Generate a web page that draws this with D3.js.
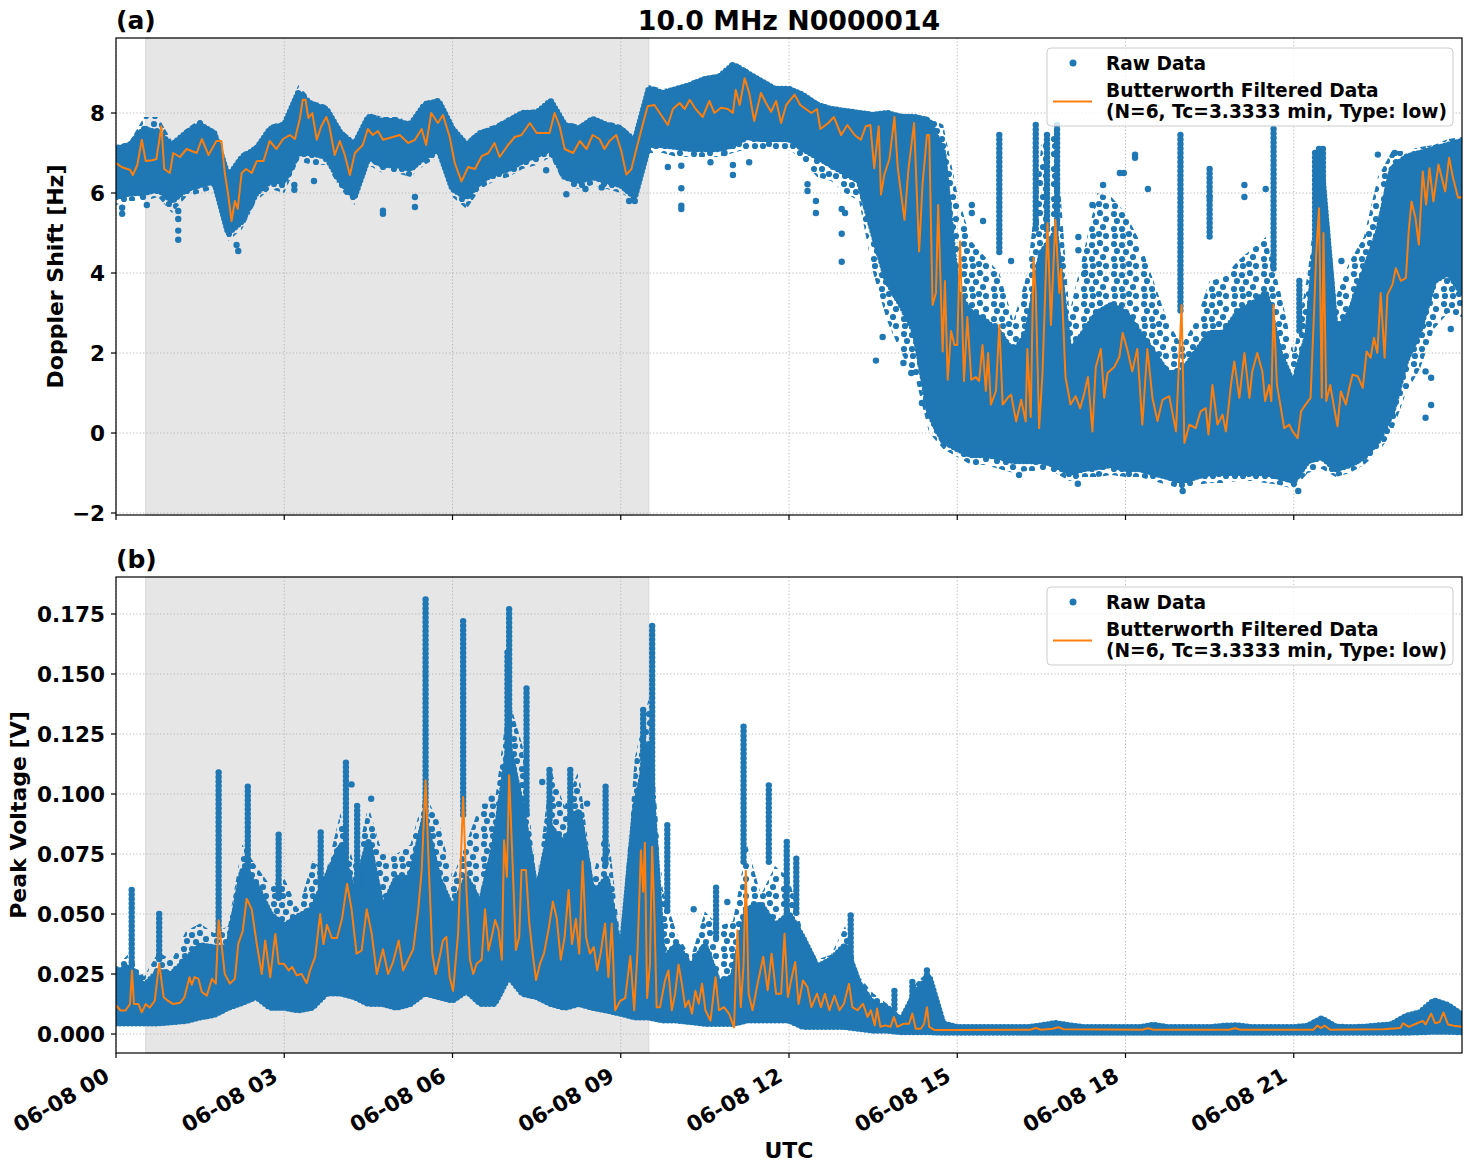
<!DOCTYPE html>
<html><head><meta charset="utf-8">
<script src="https://cdn.jsdelivr.net/npm/d3@7"></script>
<style>
body{margin:0;background:#fff}
svg{display:block}
text{font-family:"DejaVu Sans",sans-serif;font-weight:bold;fill:#000}
</style>
</head><body>
<svg id="c" width="1472" height="1172"></svg>
<script>
// ---------------- DATA ----------------
const titleText = "10.0 MHz N0000014";
const shadeSpan = [0.53, 9.5];                // hours UTC, shaded interval
const xTickHours = [0, 3, 6, 9, 12, 15, 18, 21];
const dopplerTicks = [-2, 0, 2, 4, 6, 8];
const voltTicks = [0, 0.025, 0.05, 0.075, 0.1, 0.125, 0.15, 0.175];
const legendLabels = ["Raw Data", "Butterworth Filtered Data", "(N=6, Tc=3.3333 min, Type: low)"];

// envelope sampling grid (hours, every 15 min)
const gridHours = d3.range(0, 24.001, 0.25);

// Doppler raw data envelope: dense band bottom/top, sparse extent bottom/top
const dopLo = [5.9,6.0,6.0,6.1,5.8,6.1,6.2,6.3,5.0,5.3,
 6.0,6.3,6.3,7.0,7.0,6.9,6.3,5.9,6.9,6.7,
 6.7,6.6,6.9,7.1,6.1,5.9,6.3,6.5,6.6,6.8,
 6.95,7.1,6.4,6.3,6.4,6.3,6.2,5.9,7.2,7.2,
 7.15,7.1,7.1,7.1,7.2,7.4,7.35,7.35,7.35,7.1,
 6.9,6.7,6.5,6.3,5.0,3.8,3.2,2.5,0.5,-0.2,
 -0.4,-0.55,-0.55,-0.6,-0.7,-0.7,-0.7,-0.8,-1.0,-0.9,
 -0.85,-0.8,-0.9,-0.9,-1.0,-1.1,-1.2,-1.1,-1.0,-1.0,
 -1.0,-1.0,-1.0,-1.1,-1.2,-0.7,-0.6,-0.9,-0.8,-0.6,
 -0.2,0.5,1.8,2.6,3.8,4.0,3.5];
const dopHiD = [7.1,7.2,7.6,7.5,7.2,7.5,7.7,7.5,6.4,6.9,
 7.1,7.6,7.7,8.5,8.2,8.1,7.5,7.2,7.9,7.8,
 7.8,7.7,8.2,8.3,7.6,7.2,7.5,7.6,7.8,8.0,
 8.0,8.3,7.7,7.6,7.85,7.7,7.6,7.3,8.6,8.5,
 8.6,8.7,8.85,8.9,9.2,9.0,8.8,8.6,8.6,8.45,
 8.2,8.1,8.05,8.0,7.95,8.0,7.9,7.9,7.8,7.0,
 3.5,3.0,2.8,2.5,2.0,2.5,4.5,5.0,2.0,2.5,
 3.0,3.2,3.0,2.5,2.0,1.5,1.5,2.0,2.5,2.5,
 3.0,3.2,3.5,2.0,1.2,2.5,6.6,2.5,3.0,4.0,
 5.0,6.6,6.9,7.0,7.1,7.2,7.3];
const dopHiS = [7.2,7.3,7.9,7.9,7.3,7.6,7.85,7.6,6.5,7.0,
 7.2,7.7,7.8,8.7,8.3,8.2,7.6,7.3,8.0,7.9,
 7.9,7.8,8.3,8.35,7.7,7.3,7.6,7.7,7.9,8.05,
 8.1,8.35,7.8,7.7,7.9,7.8,7.7,7.4,8.7,8.6,
 8.65,8.8,8.9,9.0,9.3,9.1,8.85,8.65,8.65,8.5,
 8.3,8.15,8.1,8.05,8.0,8.05,7.95,7.95,7.9,7.7,
 6.0,4.8,4.4,4.0,2.8,4.0,7.2,7.7,3.0,4.5,
 6.0,5.9,5.5,4.8,3.8,2.8,2.2,2.8,3.8,3.9,
 4.3,4.6,4.9,3.6,2.0,4.0,7.1,3.4,4.3,4.9,
 6.4,7.05,7.05,7.15,7.2,7.35,7.4];
const dopLoS = [5.7,5.8,5.8,5.9,5.5,5.9,6.0,6.1,4.8,5.1,
 5.8,6.1,6.0,6.8,6.7,6.7,6.1,5.7,6.7,6.5,
 6.5,6.4,6.7,6.9,5.9,5.6,6.1,6.3,6.4,6.6,
 6.7,6.9,6.2,6.1,6.2,6.1,6.0,5.8,7.0,7.0,
 6.9,6.9,6.9,6.9,7.0,7.1,7.1,7.1,7.1,6.8,
 6.4,6.3,6.0,5.8,4.0,2.8,2.0,1.4,0.0,-0.4,
 -0.6,-0.8,-0.8,-0.9,-1.0,-0.95,-0.95,-1.0,-1.2,-1.1,
 -1.1,-1.05,-1.1,-1.1,-1.2,-1.3,-1.4,-1.3,-1.25,-1.25,
 -1.2,-1.2,-1.25,-1.3,-1.4,-1.0,-0.9,-1.1,-1.0,-0.8,
 -0.5,0.0,1.0,1.6,2.6,3.0,2.9];
// vertical runs of raw points [hour, top, bottom]
const dopSpikes = [[15.75,7.45,4.5],[16.4,7.7,5.0],[16.6,7.45,5.0],[16.78,7.7,5.0],[18.98,7.45,3.0],
 [19.5,6.6,4.8],[20.64,7.6,4.0],[21.38,7.0,3.0],[21.45,7.1,3.0],[21.52,7.1,3.0],[21.1,3.8,2.5]];
// isolated raw points [hour, Hz]
const dopOutliers = [[0.11,5.63],[0.11,5.48],[0.55,5.7],[1.11,5.55],[1.11,5.35],[1.11,5.06],[1.11,4.83],
 [2.18,4.55],[2.15,4.7],[3.18,6.2],[3.18,6.08],[3.53,6.3],[4.76,5.56],[4.76,5.48],[5.33,5.9],[5.33,5.65],
 [7.67,6.57],[8.03,5.97],[8.37,6.1],[8.66,6.14],[9.15,5.8],[9.25,5.8],[9.84,6.65],[10.08,6.68],
 [10.08,6.12],[10.08,5.68],[10.08,5.6],[10.6,6.77],[10.85,7.0],[11.0,6.7],[11.0,6.45],[11.29,6.77],
 [12.33,6.22],[12.33,6.05],[12.48,5.8],[12.48,5.5],[12.94,5.6],[12.94,4.98],[12.94,4.28],[13.0,5.5],
 [13.4,5.8],[13.42,5.6],[13.55,1.81],[13.67,2.4],[14.04,1.75],[14.18,1.5],[14.37,0.75],[15.26,5.7],
 [15.26,5.5],[15.46,5.3],[15.96,4.3],[17.16,4.9],[17.16,4.57],[17.28,4.0],[17.41,5.7],[17.6,6.2],
 [17.9,6.5],[17.97,6.5],[18.17,6.96],[18.17,6.88],[18.4,6.1],[19.5,5.9],[20.12,6.2],[20.12,5.9],
 [20.5,6.1],[21.85,4.3],[22.5,6.96],[22.8,7.0],[23.35,1.54],[23.35,0.38],[23.45,1.38],[23.45,0.7],
 [23.8,2.6],[17.15,-1.27],[19.02,-1.45],[21.08,-1.45],[16.1,-1.05]];
// Butterworth filtered Doppler [hour, Hz]
const dopFilt = [[0.0,6.75],[0.1,6.65],[0.2,6.6],[0.25,6.58],[0.3,6.45],[0.38,6.7],[0.46,7.33],[0.53,6.8],[0.65,6.82],[0.72,6.85],[0.81,7.67],[0.86,6.6],[0.96,6.5],[1.02,7.0],[1.14,6.9],[1.26,7.1],[1.44,7.0],[1.53,7.35],[1.65,6.95],[1.79,7.3],[1.88,7.3],[1.94,6.5],[2.0,5.96],[2.06,5.3],[2.12,5.8],[2.17,5.6],[2.24,6.5],[2.32,6.6],[2.42,6.5],[2.51,6.8],[2.63,6.8],[2.74,7.3],[2.86,7.1],[2.98,7.35],[3.1,7.45],[3.19,7.35],[3.28,7.87],[3.33,8.33],[3.38,8.33],[3.43,7.87],[3.5,8.0],[3.58,7.33],[3.66,7.67],[3.75,7.9],[3.8,7.7],[3.9,6.95],[3.99,7.3],[4.08,6.95],[4.17,6.45],[4.26,7.0],[4.4,7.2],[4.49,7.6],[4.58,7.45],[4.67,7.55],[4.76,7.33],[4.94,7.4],[5.06,7.45],[5.21,7.25],[5.33,7.33],[5.45,7.6],[5.53,7.2],[5.62,8.0],[5.74,7.75],[5.83,7.95],[5.95,7.4],[6.04,6.75],[6.16,6.29],[6.28,6.65],[6.4,6.6],[6.52,6.92],[6.64,7.0],[6.75,7.25],[6.84,6.9],[6.99,7.2],[7.11,7.4],[7.23,7.45],[7.38,7.75],[7.5,7.5],[7.61,7.5],[7.73,7.5],[7.82,8.0],[7.91,7.67],[8.0,7.1],[8.15,7.0],[8.27,7.3],[8.39,7.1],[8.5,7.45],[8.62,7.35],[8.71,7.1],[8.8,7.3],[8.92,7.45],[9.01,7.05],[9.1,6.46],[9.19,6.6],[9.27,7.05],[9.39,7.7],[9.48,8.17],[9.6,8.2],[9.72,7.95],[9.84,7.7],[9.93,8.1],[10.05,8.25],[10.14,8.1],[10.23,8.33],[10.32,8.13],[10.46,7.9],[10.58,8.3],[10.67,8.0],[10.79,8.13],[10.91,8.1],[11.0,8.0],[11.05,8.58],[11.12,8.2],[11.21,8.87],[11.29,8.5],[11.38,7.8],[11.5,8.5],[11.59,8.25],[11.68,8.03],[11.77,8.3],[11.86,7.75],[11.95,8.2],[12.1,8.46],[12.2,8.2],[12.4,8.0],[12.5,8.1],[12.56,7.6],[12.7,7.75],[12.8,7.9],[12.93,7.45],[13.04,7.7],[13.17,7.45],[13.28,7.33],[13.37,7.67],[13.45,7.7],[13.52,6.62],[13.6,7.67],[13.64,5.96],[13.7,6.46],[13.79,6.85],[13.88,7.9],[13.94,6.62],[14.0,5.96],[14.06,5.33],[14.13,6.6],[14.23,7.75],[14.32,4.54],[14.38,6.2],[14.46,7.45],[14.5,7.45],[14.56,3.2],[14.62,3.5],[14.66,5.7],[14.74,2.04],[14.78,3.8],[14.83,1.33],[14.89,2.55],[14.95,2.2],[15.0,2.2],[15.05,4.79],[15.12,1.3],[15.18,2.9],[15.25,1.33],[15.33,1.4],[15.39,1.3],[15.45,2.2],[15.51,1.05],[15.55,2.0],[15.6,0.71],[15.69,1.05],[15.75,2.7],[15.81,0.71],[15.9,0.88],[15.96,0.96],[16.05,0.29],[16.14,0.83],[16.22,0.29],[16.25,2.1],[16.31,0.4],[16.36,4.38],[16.4,3.5],[16.46,0.12],[16.52,1.5],[16.61,5.25],[16.67,2.7],[16.75,5.33],[16.82,3.5],[16.85,4.1],[16.93,1.4],[17.02,0.71],[17.11,0.92],[17.19,0.62],[17.26,0.96],[17.33,1.4],[17.41,0.04],[17.47,1.65],[17.56,2.1],[17.62,0.88],[17.68,1.5],[17.8,1.65],[17.89,1.9],[17.95,2.5],[18.03,2.1],[18.12,1.54],[18.21,2.1],[18.3,0.21],[18.39,2.1],[18.48,0.88],[18.57,0.3],[18.66,0.83],[18.78,0.92],[18.9,0.04],[19.0,3.2],[19.05,-0.25],[19.14,0.21],[19.25,0.12],[19.34,0.54],[19.43,0.62],[19.48,-0.04],[19.55,1.2],[19.64,0.21],[19.73,0.46],[19.79,0.04],[19.88,1.2],[19.94,1.79],[20.03,0.88],[20.12,2.0],[20.21,0.88],[20.26,1.54],[20.35,2.0],[20.44,1.54],[20.49,0.8],[20.56,1.2],[20.6,0.8],[20.64,3.2],[20.7,1.2],[20.77,0.62],[20.83,0.12],[20.92,0.21],[20.98,0.04],[21.07,-0.13],[21.13,0.54],[21.21,0.71],[21.3,0.88],[21.36,2.95],[21.4,4.46],[21.45,5.62],[21.5,0.88],[21.53,5.0],[21.58,0.8],[21.65,1.2],[21.71,0.71],[21.78,0.17],[21.84,1.04],[21.93,0.71],[21.99,1.13],[22.05,1.46],[22.14,1.42],[22.23,1.13],[22.3,2.04],[22.37,1.88],[22.43,2.38],[22.49,2.0],[22.55,3.5],[22.62,1.88],[22.67,3.46],[22.76,3.71],[22.82,4.12],[22.91,3.8],[23.0,3.88],[23.05,5.04],[23.1,5.79],[23.17,5.38],[23.23,4.71],[23.3,6.54],[23.36,5.71],[23.42,6.62],[23.49,5.79],[23.58,6.71],[23.7,6.04],[23.77,6.88],[23.84,6.38],[23.93,5.88],[24.0,5.9]];

// Peak voltage raw data envelope
const vLo = [0.0045,0.0045,0.0045,0.0045,0.005,0.0055,0.007,0.008,0.011,0.013,
 0.0155,0.011,0.011,0.0099,0.011,0.017,0.017,0.0155,0.0126,0.0126,
 0.011,0.0126,0.017,0.0155,0.014,0.018,0.0126,0.0126,0.024,0.0168,
 0.0155,0.0126,0.011,0.0126,0.011,0.0099,0.0085,0.007,0.007,0.0057,
 0.0057,0.005,0.0043,0.0043,0.0043,0.0057,0.0057,0.0057,0.0057,0.003,
 0.003,0.003,0.003,0.0022,0.0015,0.0015,0.0008,0.0008,0.0008,0.0006,
 0.0006,0.0006,0.0006,0.0006,0.0006,0.0006,0.0006,0.0006,0.0006,0.0006,
 0.0006,0.0006,0.0006,0.0006,0.0006,0.0006,0.0006,0.0006,0.0006,0.0006,
 0.0006,0.0006,0.0006,0.0006,0.0006,0.0006,0.0006,0.0006,0.0006,0.0006,
 0.0006,0.0006,0.0006,0.0008,0.001,0.001,0.0008];
const vHiD = [0.026,0.028,0.020,0.026,0.025,0.031,0.037,0.036,0.036,0.068,
 0.062,0.050,0.045,0.049,0.052,0.065,0.078,0.058,0.080,0.052,
 0.065,0.065,0.090,0.065,0.052,0.065,0.054,0.079,0.120,0.093,
 0.058,0.086,0.079,0.093,0.058,0.065,0.031,0.093,0.121,0.031,
 0.037,0.028,0.037,0.021,0.024,0.052,0.054,0.045,0.050,0.040,
 0.028,0.031,0.037,0.021,0.0126,0.011,0.0057,0.017,0.024,0.0043,
 0.0028,0.0028,0.0028,0.0028,0.0028,0.0028,0.0036,0.0045,0.0036,0.0028,
 0.0028,0.0028,0.0028,0.0028,0.0038,0.0028,0.0028,0.0028,0.0028,0.0034,
 0.0036,0.0028,0.0028,0.0028,0.0028,0.0034,0.0065,0.003,0.0028,0.003,
 0.0035,0.004,0.0075,0.009,0.014,0.012,0.008];
const vHiS = [0.028,0.034,0.024,0.034,0.031,0.043,0.046,0.042,0.045,0.079,
 0.070,0.062,0.065,0.052,0.072,0.068,0.092,0.070,0.095,0.075,
 0.075,0.079,0.100,0.089,0.065,0.080,0.096,0.096,0.140,0.120,
 0.063,0.110,0.095,0.110,0.065,0.090,0.038,0.115,0.140,0.060,
 0.042,0.032,0.051,0.045,0.047,0.079,0.058,0.070,0.065,0.042,
 0.031,0.033,0.045,0.024,0.017,0.0126,0.007,0.021,0.0265,0.005,
 0.0028,0.0028,0.0028,0.0028,0.0028,0.0028,0.0036,0.0045,0.0036,0.0028,
 0.0028,0.0028,0.0028,0.0028,0.0038,0.0028,0.0028,0.0028,0.0028,0.0034,
 0.0036,0.0028,0.0028,0.0028,0.0028,0.0034,0.0065,0.003,0.0028,0.003,
 0.0035,0.004,0.0075,0.009,0.014,0.012,0.008];
const vSpikes = [[0.28,0.060,0.030],[0.77,0.050,0.030],[1.83,0.109,0.040],[2.35,0.103,0.060],[2.9,0.083,0.055],
 [3.65,0.084,0.055],[4.1,0.113,0.07],[4.3,0.095,0.06],[5.52,0.181,0.09],[6.19,0.172,0.09],[6.98,0.159,0.1],
 [7.01,0.177,0.11],[7.32,0.144,0.09],[7.73,0.110,0.08],[8.1,0.110,0.08],[8.73,0.103,0.07],[9.4,0.135,0.09],
 [9.56,0.170,0.10],[9.83,0.087,0.05],[10.7,0.061,0.04],[11.19,0.128,0.07],[11.64,0.1036,0.07],
 [11.96,0.080,0.05],[12.13,0.073,0.05],[13.1,0.0494,0.03],[13.88,0.018,0.01],[14.2,0.0217,0.012],[14.46,0.0265,0.015]];
const vOutliers = [[1.18,0.030],[4.55,0.098],[4.2,0.104],[6.7,0.098],[7.6,0.105],[8.4,0.096],[10.3,0.052],[10.9,0.055]];
const vFilt = [[0.0,0.012],[0.08,0.0098],[0.17,0.0098],[0.25,0.0125],[0.285,0.0265],[0.32,0.0125],[0.4,0.0125],[0.46,0.009],[0.53,0.0125],[0.6,0.011],[0.69,0.0138],[0.77,0.0293],[0.85,0.0153],[0.93,0.0138],[1.02,0.0125],[1.14,0.013],[1.22,0.0153],[1.31,0.0237],[1.35,0.0205],[1.4,0.0237],[1.47,0.023],[1.53,0.0175],[1.62,0.016],[1.71,0.023],[1.78,0.021],[1.83,0.0474],[1.88,0.0375],[1.94,0.025],[2.03,0.021],[2.12,0.023],[2.18,0.0375],[2.26,0.043],[2.33,0.0564],[2.42,0.052],[2.51,0.0375],[2.6,0.025],[2.66,0.039],[2.75,0.0237],[2.84,0.0417],[2.9,0.0293],[2.99,0.0293],[3.08,0.0265],[3.14,0.028],[3.22,0.0245],[3.31,0.025],[3.4,0.0212],[3.46,0.0265],[3.55,0.032],[3.64,0.05],[3.7,0.0375],[3.76,0.0455],[3.85,0.04],[3.94,0.04],[4.03,0.048],[4.12,0.0626],[4.2,0.052],[4.29,0.0335],[4.38,0.0348],[4.47,0.052],[4.56,0.0417],[4.65,0.025],[4.76,0.0353],[4.85,0.025],[4.94,0.030],[5.04,0.039],[5.12,0.0265],[5.21,0.031],[5.3,0.0353],[5.39,0.052],[5.45,0.068],[5.52,0.1057],[5.58,0.068],[5.64,0.0335],[5.7,0.025],[5.77,0.032],[5.83,0.039],[5.89,0.0405],[5.95,0.0237],[6.01,0.018],[6.1,0.0417],[6.19,0.0988],[6.25,0.0593],[6.31,0.031],[6.37,0.025],[6.43,0.0293],[6.52,0.031],[6.58,0.052],[6.64,0.0348],[6.7,0.0405],[6.76,0.0475],[6.82,0.0435],[6.88,0.031],[6.92,0.0807],[6.97,0.0655],[7.01,0.1078],[7.07,0.072],[7.13,0.035],[7.19,0.0405],[7.23,0.0683],[7.31,0.0683],[7.37,0.046],[7.43,0.0335],[7.49,0.0225],[7.56,0.0293],[7.63,0.0335],[7.71,0.0432],[7.79,0.0552],[7.86,0.048],[7.93,0.031],[8.0,0.0405],[8.07,0.06],[8.13,0.0375],[8.2,0.048],[8.26,0.0335],[8.32,0.072],[8.38,0.0405],[8.45,0.0335],[8.52,0.0362],[8.58,0.0265],[8.64,0.0335],[8.72,0.046],[8.78,0.0237],[8.84,0.046],[8.9,0.0099],[8.99,0.0138],[9.08,0.015],[9.17,0.0325],[9.24,0.0099],[9.3,0.035],[9.36,0.0765],[9.4,0.0593],[9.43,0.0797],[9.47,0.015],[9.52,0.029],[9.56,0.078],[9.6,0.0495],[9.64,0.0112],[9.7,0.0112],[9.79,0.0223],[9.85,0.0265],[9.91,0.0099],[9.97,0.0168],[10.03,0.029],[10.09,0.0209],[10.15,0.0112],[10.21,0.014],[10.27,0.0085],[10.33,0.018],[10.39,0.0126],[10.45,0.021],[10.51,0.0099],[10.6,0.0056],[10.69,0.0237],[10.75,0.0099],[10.84,0.0112],[10.93,0.0085],[11.02,0.0028],[11.08,0.0432],[11.14,0.0112],[11.19,0.029],[11.23,0.068],[11.28,0.0168],[11.35,0.0099],[11.44,0.021],[11.54,0.0322],[11.62,0.0182],[11.69,0.0335],[11.77,0.0168],[11.86,0.0168],[11.92,0.0418],[11.98,0.0154],[12.05,0.0237],[12.11,0.030],[12.17,0.0125],[12.25,0.0223],[12.33,0.0195],[12.4,0.0112],[12.5,0.0168],[12.57,0.0112],[12.64,0.0168],[12.72,0.0099],[12.81,0.016],[12.9,0.0099],[12.98,0.0126],[13.07,0.0209],[13.13,0.0112],[13.22,0.0099],[13.32,0.0126],[13.4,0.0071],[13.46,0.0099],[13.53,0.0036],[13.57,0.0106],[13.63,0.003],[13.72,0.0036],[13.81,0.003],[13.87,0.0071],[13.93,0.003],[14.05,0.0043],[14.14,0.0043],[14.2,0.0085],[14.26,0.0022],[14.35,0.0022],[14.41,0.0043],[14.46,0.0112],[14.5,0.003],[14.59,0.0017],[15.0,0.0017],[16.3,0.0018],[16.4,0.0025],[16.5,0.0018],[16.7,0.0022],[16.8,0.0028],[16.9,0.002],[18.3,0.0018],[18.4,0.0024],[18.5,0.0018],[19.85,0.0018],[19.95,0.0024],[20.05,0.0018],[21.35,0.0018],[21.42,0.0035],[21.48,0.0025],[21.55,0.0035],[21.65,0.0018],[22.6,0.002],[22.9,0.0025],[22.95,0.0045],[23.05,0.003],[23.2,0.0045],[23.3,0.0055],[23.35,0.004],[23.45,0.0085],[23.52,0.0045],[23.6,0.005],[23.67,0.009],[23.75,0.004],[23.85,0.0035],[24.0,0.003]];

// ---------------- DRAWING ----------------
const BLUE = "#1f77b4", ORANGE = "#ff7f0e";
const svg = d3.select("#c");
const defs = svg.append("defs");
const day0 = Date.UTC(2024, 5, 8);
const toDate = h => new Date(day0 + h * 3600e3);
const X0 = 116, X1 = 1462;
const x = d3.scaleUtc().domain([toDate(0), toDate(24)]).range([X0, X1]);

// scattered-dot texture for sparse regions of the raw cloud
const pat = defs.append("pattern").attr("id", "sparse").attr("patternUnits", "userSpaceOnUse")
  .attr("width", 30).attr("height", 30);
[[4,4],[12,5],[20,3],[26,9],[7,11],[16,12],[23,17],[4,19],[12,19],[19,24],[26,26],[5,26],[13,26]].forEach(p =>
  pat.append("circle").attr("cx", p[0]).attr("cy", p[1]).attr("r", 3.1).attr("fill", BLUE));

function drawPanel(cfg) {
  const y = d3.scaleLinear().domain(cfg.domain).range([cfg.bottom, cfg.top]);
  const g = svg.append("g");
  const clipId = "clip" + cfg.id;
  defs.append("clipPath").attr("id", clipId).append("rect")
    .attr("x", X0).attr("y", cfg.top).attr("width", X1 - X0).attr("height", cfg.bottom - cfg.top);

  // shaded interval
  g.append("rect").attr("x", x(toDate(shadeSpan[0]))).attr("y", cfg.top)
    .attr("width", x(toDate(shadeSpan[1])) - x(toDate(shadeSpan[0]))).attr("height", cfg.bottom - cfg.top)
    .attr("fill", "#e6e6e6").attr("stroke", "#d6d6d6").attr("stroke-width", 1);

  // grid
  const grid = g.append("g").attr("stroke", "#b0b0b0").attr("stroke-width", 0.9).attr("stroke-dasharray", "1.2,2.2");
  xTickHours.forEach(h => grid.append("line").attr("x1", x(toDate(h))).attr("x2", x(toDate(h)))
    .attr("y1", cfg.top).attr("y2", cfg.bottom));
  cfg.ticks.forEach(t => grid.append("line").attr("x1", X0).attr("x2", X1).attr("y1", y(t)).attr("y2", y(t)));

  const plot = g.append("g").attr("clip-path", `url(#${clipId})`);
  const rows = gridHours.map((h, i) => ({h, lo: cfg.lo[i], hiD: cfg.hiD[i], hiS: cfg.hiS[i], loS: cfg.loS ? cfg.loS[i] : cfg.lo[i]}));
  const xa = d => x(toDate(d.h));
  // sparse upper / lower cloud
  plot.append("path").attr("d", d3.area().x(xa).y0(d => y(d.hiD)).y1(d => y(d.hiS))(rows)).attr("fill", "url(#sparse)");
  plot.append("path").attr("d", d3.area().x(xa).y0(d => y(d.loS)).y1(d => y(d.lo))(rows)).attr("fill", "url(#sparse)");
  // dense cloud
  plot.append("path").attr("d", d3.area().x(xa).y0(d => y(d.lo)).y1(d => y(d.hiD))(rows)).attr("fill", BLUE);
  ["hiD", "lo"].forEach(k => plot.append("path").attr("d", d3.line().x(xa).y(d => y(d[k]))(rows))
    .attr("fill", "none").attr("stroke", BLUE).attr("stroke-width", 6.4)
    .attr("stroke-linecap", "round").attr("stroke-dasharray", "0,4"));
  // vertical runs of raw points
  plot.selectAll(null).data(cfg.spikes).enter().append("line")
    .attr("x1", d => x(toDate(d[0]))).attr("x2", d => x(toDate(d[0])))
    .attr("y1", d => y(d[1])).attr("y2", d => y(d[2]))
    .attr("stroke", BLUE).attr("stroke-width", 6.4).attr("stroke-linecap", "round").attr("stroke-dasharray", "0,4.5");
  // isolated points
  plot.selectAll(null).data(cfg.outliers).enter().append("circle")
    .attr("cx", d => x(toDate(d[0]))).attr("cy", d => y(d[1])).attr("r", 3.2).attr("fill", BLUE);
  // filtered line
  plot.append("path").attr("d", d3.line().x(d => x(toDate(d[0]))).y(d => y(d[1]))(cfg.filt))
    .attr("fill", "none").attr("stroke", ORANGE).attr("stroke-width", 2).attr("stroke-linejoin", "round");

  // spines
  g.append("rect").attr("x", X0).attr("y", cfg.top).attr("width", X1 - X0).attr("height", cfg.bottom - cfg.top)
    .attr("fill", "none").attr("stroke", "#000").attr("stroke-width", 1.2);
  // y ticks
  cfg.ticks.forEach(t => {
    g.append("line").attr("x1", X0 - 5).attr("x2", X0).attr("y1", y(t)).attr("y2", y(t)).attr("stroke", "#000").attr("stroke-width", 1.2);
    g.append("text").attr("x", X0 - 11).attr("y", y(t)).attr("dy", "0.36em").attr("text-anchor", "end")
      .style("font-size", "21.5px").text(cfg.fmt(t));
  });
  // x ticks
  xTickHours.forEach(h => g.append("line").attr("x1", x(toDate(h))).attr("x2", x(toDate(h)))
    .attr("y1", cfg.bottom).attr("y2", cfg.bottom + 5).attr("stroke", "#000").attr("stroke-width", 1.2));
  if (cfg.xlabels) {
    const fmt = d3.utcFormat("%m-%d %H");
    xTickHours.forEach(h => {
      const ax = x(toDate(h)) - 5, ay = cfg.bottom + 27;
      g.append("text").attr("x", ax).attr("y", ay).attr("text-anchor", "end")
        .attr("transform", `rotate(-30,${ax},${ay})`).style("font-size", "21.5px").text(fmt(toDate(h)));
    });
  }
  // y label
  const yc = (cfg.top + cfg.bottom) / 2;
  g.append("text").attr("transform", `translate(${cfg.ylabelX},${yc}) rotate(-90)`).attr("text-anchor", "middle")
    .style("font-size", "22px").text(cfg.ylabel);
  // panel tag
  g.append("text").attr("x", X0).attr("y", cfg.top - 9).style("font-size", "25px").text(cfg.tag);

  // legend
  const L = g.append("g").attr("transform", `translate(1047,${cfg.top + 10})`);
  L.append("rect").attr("width", 406).attr("height", 78).attr("rx", 4).attr("fill", "#fff").attr("fill-opacity", 0.8)
    .attr("stroke", "#cccccc").attr("stroke-width", 1);
  L.append("circle").attr("cx", 26).attr("cy", 15).attr("r", 3.5).attr("fill", BLUE);
  L.append("line").attr("x1", 6).attr("x2", 45).attr("y1", 53.5).attr("y2", 53.5).attr("stroke", ORANGE).attr("stroke-width", 2);
  L.append("text").attr("x", 59).attr("y", 21.5).style("font-size", "18.6px").text(legendLabels[0]);
  L.append("text").attr("x", 59).attr("y", 48.5).style("font-size", "18.6px").text(legendLabels[1]);
  L.append("text").attr("x", 59).attr("y", 69.5).style("font-size", "18.6px").text(legendLabels[2]);
}

drawPanel({id: "a", tag: "(a)", top: 38, bottom: 515, domain: [-2.05, 9.875], ticks: dopplerTicks,
  fmt: t => (t < 0 ? "\u2212" + Math.abs(t) : String(t)), lo: dopLo, hiD: dopHiD, hiS: dopHiS, loS: dopLoS,
  spikes: dopSpikes, outliers: dopOutliers, filt: dopFilt, ylabel: "Doppler Shift [Hz]", ylabelX: 63, xlabels: false});
drawPanel({id: "b", tag: "(b)", top: 577, bottom: 1053, domain: [-0.0079, 0.1904], ticks: voltTicks,
  fmt: d3.format(".3f"), lo: vLo, hiD: vHiD, hiS: vHiS, loS: null,
  spikes: vSpikes, outliers: vOutliers, filt: vFilt, ylabel: "Peak Voltage [V]", ylabelX: 26, xlabels: true});

svg.append("text").attr("x", (X0 + X1) / 2).attr("y", 30).attr("text-anchor", "middle").style("font-size", "26.8px").text(titleText);
svg.append("text").attr("x", (X0 + X1) / 2).attr("y", 1158).attr("text-anchor", "middle").style("font-size", "22px").text("UTC");
</script>
</body></html>
